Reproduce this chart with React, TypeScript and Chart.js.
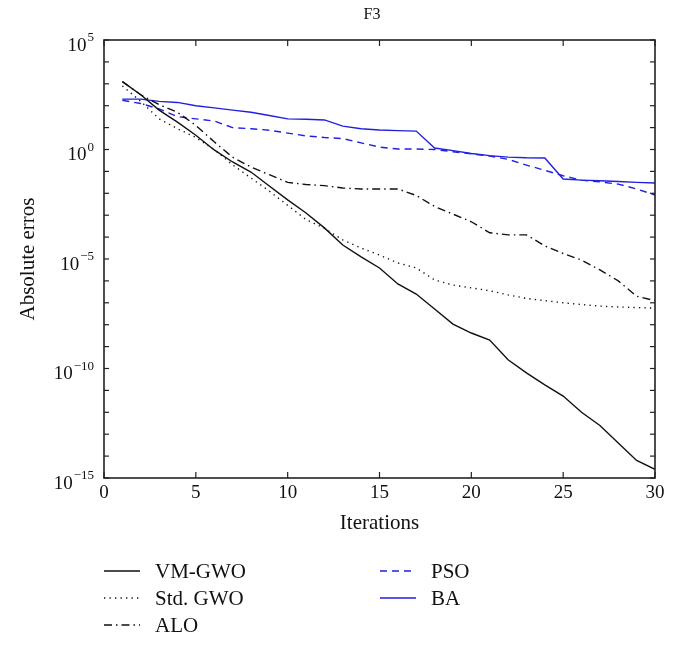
import React, { useEffect, useRef } from 'react';
import { Chart, registerables } from 'chart.js';
Chart.register(...registerables);

const chartTitle = 'F3';
const xTitle = 'Iterations';
const yTitle = 'Absolute erros';

const iterations = [1, 2, 3, 4, 5, 6, 7, 8, 9, 10, 11, 12, 13, 14, 15, 16, 17, 18, 19, 20, 21, 22, 23, 24, 25, 26, 27, 28, 29, 30];

const vmGwo = [1.26e3, 3.16e2, 6.31e1, 1.78e1, 4.47, 0.955, 2.69e-1, 9.33e-2, 2.14e-2, 5.01e-3, 1.26e-3, 2.63e-4, 4.37e-5, 1.26e-5, 3.89e-6, 7.24e-7, 2.51e-7, 5.25e-8, 1.07e-8, 4.17e-9, 2.0e-9, 2.51e-10, 6.31e-11, 1.78e-11, 5.5e-12, 1e-12, 2.51e-13, 3.98e-14, 6.31e-15, 2.51e-15];
const stdGwo = [7.94e2, 1.58e2, 2.51e1, 8.91, 3.55, 1.0, 2.0e-1, 5.01e-2, 1.26e-2, 2.82e-3, 6.31e-4, 2.51e-4, 7.41e-5, 3.16e-5, 1.51e-5, 6.61e-6, 3.89e-6, 1.1e-6, 6.46e-7, 4.79e-7, 3.55e-7, 2.29e-7, 1.58e-7, 1.26e-7, 1e-7, 8.32e-8, 7.08e-8, 6.46e-8, 6.03e-8, 5.75e-8];
const alo = [1.26e3, 3.16e2, 1.12e2, 5.01e1, 1.26e1, 2.24, 4.47e-1, 1.58e-1, 7.08e-2, 3.16e-2, 2.51e-2, 2.24e-2, 1.74e-2, 1.58e-2, 1.58e-2, 1.58e-2, 7.94e-3, 2.51e-3, 1.12e-3, 5.01e-4, 1.58e-4, 1.26e-4, 1.26e-4, 3.98e-5, 1.78e-5, 8.91e-6, 3.16e-6, 1e-6, 2.0e-7, 1.26e-7];
const pso = [1.78e2, 1.26e2, 7.08e1, 3.16e1, 2.51e1, 2.0e1, 1e1, 8.91, 7.59, 5.62, 4.17, 3.55, 3.16, 2.0, 1.29, 1.05, 1.05, 1.0, 7.94e-1, 6.31e-1, 5.01e-1, 3.55e-1, 1.95e-1, 1.12e-1, 6.31e-2, 3.98e-2, 3.31e-2, 2.63e-2, 1.58e-2, 8.32e-3];
const ba = [2.0e2, 2.0e2, 1.58e2, 1.41e2, 1e2, 7.94e1, 6.31e1, 5.01e1, 3.55e1, 2.51e1, 2.4e1, 2.24e1, 1.17e1, 8.91, 7.76, 7.24, 6.92, 1.17, 8.91e-1, 6.61e-1, 5.25e-1, 4.47e-1, 4.17e-1, 4.07e-1, 4.47e-2, 3.98e-2, 3.72e-2, 3.47e-2, 3.16e-2, 2.95e-2];

const seriesNames = ['VM-GWO', 'Std. GWO', 'ALO', 'PSO', 'BA'];

const xTickValues = [0, 5, 10, 15, 20, 25, 30];
const yLabelExponents = [5, 0, -5, -10, -15];
const yDecadeExponents = [5, 4, 3, 2, 1, 0, -1, -2, -3, -4, -5, -6, -7, -8, -9, -10, -11, -12, -13, -14, -15];

const FONT = '"Liberation Serif", "DejaVu Serif", serif';
const BLACK = '#111111';
const BLUE = '#2020e0';

const styles = [
  { color: BLACK, dash: [] as number[] },
  { color: BLACK, dash: [1.3, 4.2] },
  { color: BLACK, dash: [8, 4, 1.5, 4] },
  { color: BLUE, dash: [7, 5] },
  { color: BLUE, dash: [] as number[] },
];

const seriesData = [vmGwo, stdGwo, alo, pso, ba];

function supMinus(e: number) {
  return e < 0 ? '\u2212' + String(-e) : String(e);
}

export default function App() {
  const ref = useRef<HTMLCanvasElement | null>(null);

  useEffect(() => {
    if (!ref.current) return;

    const decor = {
      id: 'decor',
      afterDraw(chart: any) {
        const { ctx, chartArea: a, scales } = chart;
        const xs = scales.x;
        const ys = scales.y;
        ctx.save();
        ctx.setLineDash([]);
        ctx.strokeStyle = '#222';
        ctx.lineWidth = 1.6;
        ctx.strokeRect(a.left, a.top, a.right - a.left, a.bottom - a.top);
        ctx.lineWidth = 1.2;
        const seg = (x1: number, y1: number, x2: number, y2: number) => {
          ctx.beginPath();
          ctx.moveTo(x1, y1);
          ctx.lineTo(x2, y2);
          ctx.stroke();
        };
        for (const v of xTickValues) {
          const px = xs.getPixelForValue(v);
          seg(px, a.bottom, px, a.bottom - 6);
          seg(px, a.top, px, a.top + 6);
        }
        for (const e of yDecadeExponents) {
          const py = ys.getPixelForValue(Math.pow(10, e));
          seg(a.left, py, a.left + 5, py);
          seg(a.right, py, a.right - 5, py);
        }
        // y tick labels
        ctx.fillStyle = BLACK;
        ctx.textBaseline = 'middle';
        for (const e of yLabelExponents) {
          const py = ys.getPixelForValue(Math.pow(10, e));
          const expText = supMinus(e);
          ctx.font = `13px ${FONT}`;
          const ew = ctx.measureText(expText).width;
          const right = a.left - 10;
          ctx.textAlign = 'left';
          ctx.fillText(expText, right - ew, py - 2);
          ctx.font = `19px ${FONT}`;
          ctx.textAlign = 'right';
          ctx.fillText('10', right - ew - 1, py + 6);
        }
        // titles
        ctx.font = `21px ${FONT}`;
        ctx.textAlign = 'center';
        ctx.fillText(xTitle, (a.left + a.right) / 2, 523);
        ctx.save();
        ctx.translate(28, (a.top + a.bottom) / 2);
        ctx.rotate(-Math.PI / 2);
        ctx.fillText(yTitle, 0, 0);
        ctx.restore();
        ctx.font = `16px ${FONT}`;
        ctx.fillText(chartTitle, 372, 15);
        // legend
        const pos = [
          { x: 104, y: 571 },
          { x: 104, y: 598 },
          { x: 104, y: 625 },
          { x: 380, y: 571 },
          { x: 380, y: 598 },
        ];
        ctx.font = `21px ${FONT}`;
        ctx.textAlign = 'left';
        seriesNames.forEach((name, i) => {
          const p = pos[i];
          ctx.strokeStyle = styles[i].color;
          ctx.lineWidth = 1.4;
          ctx.setLineDash(styles[i].dash);
          seg(p.x, p.y, p.x + 36, p.y);
          ctx.setLineDash([]);
          ctx.fillStyle = BLACK;
          ctx.fillText(name, p.x + 51, p.y + 1);
        });
        ctx.restore();
      },
    };

    const chart = new Chart(ref.current, {
      type: 'line',
      data: {
        datasets: seriesNames.map((name, i) => ({
          label: name,
          data: iterations.map((x, j) => ({ x, y: seriesData[i][j] })),
          borderColor: styles[i].color,
          borderWidth: 1.4,
          borderDash: styles[i].dash,
          pointRadius: 0,
          fill: false,
          tension: 0,
        })),
      },
      options: {
        animation: false,
        responsive: true,
        maintainAspectRatio: false,
        layout: { padding: { top: 40, right: 23, left: 0, bottom: 0 } },
        plugins: {
          legend: { display: false },
          title: { display: false },
          tooltip: { enabled: false },
        },
        scales: {
          x: {
            type: 'linear',
            min: 0,
            max: 30,
            grid: { display: false, drawTicks: false },
            border: { display: false },
            afterBuildTicks: (s: any) => {
              s.ticks = xTickValues.map((v) => ({ value: v }));
            },
            ticks: {
              padding: 4,
              maxRotation: 0,
              autoSkip: false,
              color: BLACK,
              font: { family: FONT, size: 19 },
            },
            afterFit: (s: any) => {
              s.height = 169;
            },
          },
          y: {
            type: 'logarithmic',
            min: 1e-15,
            max: 1e5,
            grid: { display: false, drawTicks: false },
            border: { display: false },
            ticks: { display: false },
            afterFit: (s: any) => {
              s.width = 104;
            },
          },
        },
      },
      plugins: [decor],
    } as any);

    return () => chart.destroy();
  }, []);

  return (
    <div style={{ position: 'relative', width: 678, height: 647, margin: -8, background: '#fff' }}>
      <canvas ref={ref} />
    </div>
  );
}
